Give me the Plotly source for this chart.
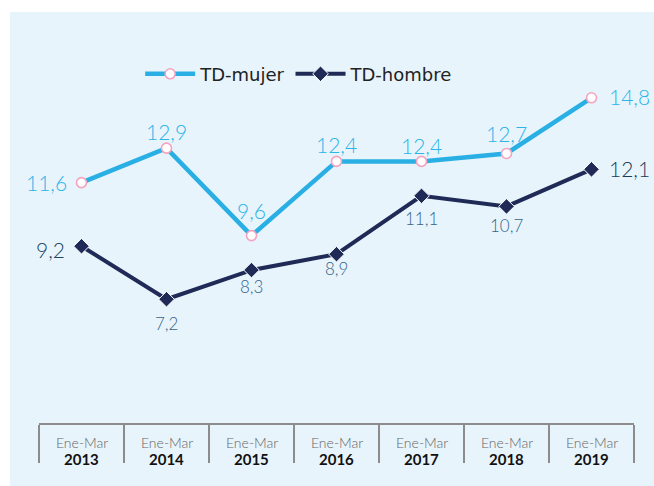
import plotly.graph_objects as go

categories = ["2013", "2014", "2015", "2016", "2017", "2018", "2019"]
period_label = "Ene-Mar"
mujer = [11.6, 12.9, 9.6, 12.4, 12.4, 12.7, 14.8]
hombre = [9.2, 7.2, 8.3, 8.9, 11.1, 10.7, 12.1]

def fmt(v):
    return f"{v:.1f}".replace(".", ",")

C_MUJER = "#2aafe4"
C_HOMBRE = "#1f2a56"
BG = "#e8f4fc"

# label placement styles (pixel offsets from the point)
mujer_lbl = [("right", -13, 0), ("center", 0, 17), ("center", 0, 25), ("center", 0, 17),
             ("center", 0, 16), ("center", 0, 20), ("left", 15, 1)]
hombre_lbl = [("right", -15, -3), ("center", 0, -24), ("center", 0, -16), ("center", 0, -14),
              ("center", 0, -23), ("center", 0, -19), ("left", 15, 1)]
hombre_size = [21, 17, 17, 17, 17, 17, 21]
hombre_col = ["#1e4466", "#36658a", "#36658a", "#36658a", "#36658a", "#36658a", "#1b3a5a"]

fig = go.Figure()

fig.add_trace(go.Scatter(
    x=categories, y=mujer, name="TD-mujer", mode="lines+markers",
    line=dict(color=C_MUJER, width=4.5),
    marker=dict(symbol="circle", size=10, color="white",
                line=dict(color="#f4a3c0", width=1.6)),
    cliponaxis=False,
))

fig.add_trace(go.Scatter(
    x=categories, y=hombre, name="TD-hombre", mode="lines+markers",
    line=dict(color=C_HOMBRE, width=4),
    marker=dict(symbol="diamond", size=12, color=C_HOMBRE,
                line=dict(color="white", width=1)),
    cliponaxis=False,
))

for i, v in enumerate(mujer):
    xa, dx, dy = mujer_lbl[i]
    fig.add_annotation(x=i, y=v, xref="x", yref="y", text=fmt(v), showarrow=False,
                       xanchor=xa, yanchor="middle", xshift=dx, yshift=dy,
                       font=dict(family="Lato", size=21, color="#2bb5e8", weight=300))
for i, v in enumerate(hombre):
    xa, dx, dy = hombre_lbl[i]
    fig.add_annotation(x=i, y=v, xref="x", yref="y", text=fmt(v), showarrow=False,
                       xanchor=xa, yanchor="middle", xshift=dx, yshift=dy,
                       font=dict(family="Lato", size=hombre_size[i], color=hombre_col[i],
                                 weight=300))

# background panel
fig.add_shape(type="rect", xref="paper", yref="paper",
              x0=-0.0487, x1=1.04, y0=-0.17, y1=1.0731,
              fillcolor=BG, line=dict(width=0), layer="below")

# category labels under the boxes
for i, c in enumerate(categories):
    fig.add_annotation(x=i, xref="x", yref="paper", y=0, yshift=-19,
                       text=period_label, showarrow=False, yanchor="middle",
                       font=dict(family="Lato", size=14, color="#666666", weight=300))
    fig.add_annotation(x=i, xref="x", yref="paper", y=0, yshift=-36,
                       text=f"<b>{c}</b>", showarrow=False, yanchor="middle",
                       font=dict(family="Lato", size=15, color="#111111"))

fig.update_layout(
    width=654, height=486,
    margin=dict(l=39, r=20, t=40, b=63),
    paper_bgcolor="white",
    plot_bgcolor="rgba(0,0,0,0)",
    showlegend=True,
    legend=dict(orientation="h", x=0.17, xanchor="left", y=0.911, yanchor="middle",
                font=dict(family="DejaVu Sans", size=18, color="#222222"),
                bgcolor="rgba(0,0,0,0)", itemwidth=50, tracegroupgap=0),
    xaxis=dict(type="category", range=[-0.5, 6.5], showgrid=False, zeroline=False,
               showline=True, linecolor="#8c8c8c", linewidth=1.5,
               ticks="outside", tickson="boundaries", ticklen=38,
               tickcolor="#8c8c8c", tickwidth=1.5, showticklabels=False),
    yaxis=dict(range=[2.53, 16.98], visible=False, showgrid=False, zeroline=False),
)

fig.write_html("out.html")
